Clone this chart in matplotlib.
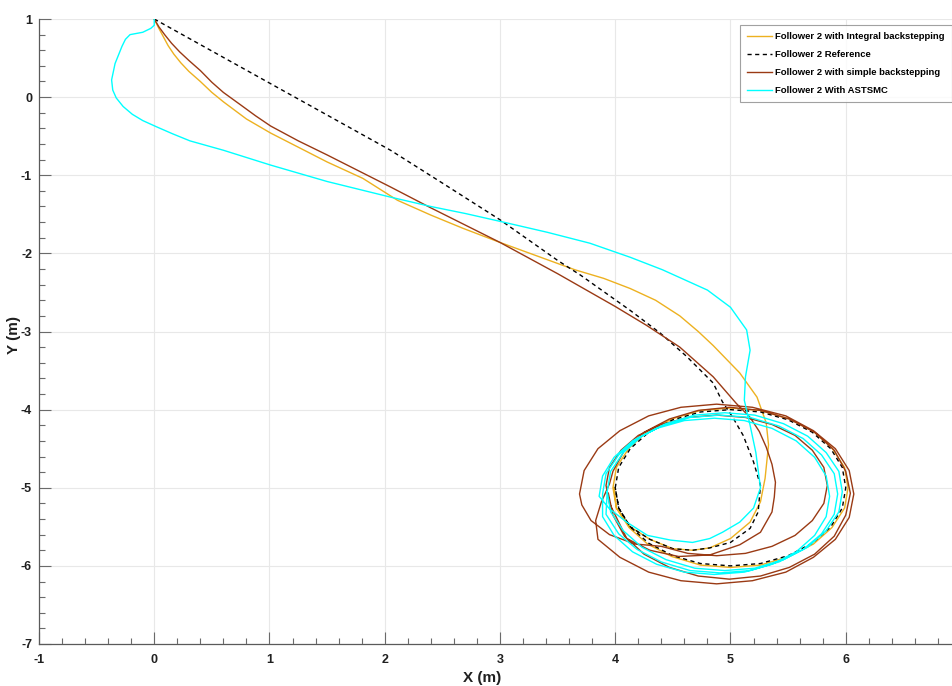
"""Follower 2 trajectories: integral / simple backstepping, ASTSMC and reference."""

import matplotlib

matplotlib.use("Agg")
from matplotlib import pyplot as plt
from matplotlib.ticker import FixedLocator, MultipleLocator

# ---- data (x, y in metres) ----
ref_x = [0.0, 1.0, 2.05, 2.5, 3.0, 3.5, 3.7, 4.13, 4.39, 4.62, 4.85, 4.93, 5.02, 5.11,
         5.2, 5.26, 5.24, 5.17, 5.0, 4.82, 4.67, 4.5, 4.3,
         4.13, 4.03, 4.0, 4.03, 4.13, 4.29, 4.5, 4.74, 5.0, 5.26, 5.5, 5.71, 5.87,
         5.97, 6.0, 5.97, 5.87, 5.71, 5.5, 5.26, 5.0, 4.74, 4.5, 4.29, 4.13, 4.03, 4.0]
ref_y = [1.0, 0.18, -0.68, -1.1, -1.57, -2.09, -2.28, -2.73, -3.02, -3.32, -3.66, -3.9, -4.1, -4.33,
         -4.67, -4.97, -5.31, -5.52, -5.7, -5.77, -5.8, -5.78, -5.66,
         -5.5, -5.26, -5.0, -4.74, -4.5, -4.29, -4.13, -4.03, -4.0, -4.03, -4.13, -4.29, -4.5,
         -4.74, -5.0, -5.26, -5.5, -5.71, -5.87, -5.97, -6.0, -5.97, -5.87, -5.71, -5.5, -5.26, -5.0]

ibs_x = [0.0, 0.04, 0.08, 0.12, 0.17, 0.23, 0.3, 0.4, 0.5, 0.6, 0.8, 1.01, 1.5, 1.81, 2.11, 2.4, 2.68,
         3.0, 3.26, 3.65, 3.9, 4.13, 4.35, 4.56, 4.72, 4.85, 5.08, 5.23, 5.31, 5.33, 5.3, 5.26,
         5.17, 5.0, 4.82, 4.67, 4.5, 4.3, 4.13,
         4.01, 3.98, 4.01, 4.12, 4.28, 4.49, 4.74, 5.0, 5.26, 5.51, 5.72, 5.88, 5.99, 6.02,
         5.99, 5.88, 5.72, 5.51, 5.26, 5.0, 4.74, 4.49, 4.28, 4.12, 4.01, 3.99]
ibs_y = [1.0, 0.88, 0.77, 0.66, 0.55, 0.44, 0.33, 0.2, 0.06, -0.06, -0.28, -0.46, -0.83, -1.04, -1.32, -1.51, -1.68,
         -1.86, -2.0, -2.21, -2.32, -2.45, -2.6, -2.8, -3.0, -3.18, -3.53, -3.84, -4.17, -4.45, -4.88, -5.18,
         -5.44, -5.65, -5.77, -5.8, -5.78, -5.66, -5.5,
         -5.26, -5.0, -4.74, -4.49, -4.28, -4.12, -4.01, -3.98, -4.01, -4.12, -4.28, -4.49, -4.74, -5.0,
         -5.26, -5.51, -5.72, -5.88, -5.99, -6.02, -5.99, -5.88, -5.72, -5.51, -5.26, -5.0]

sbs_x = [0.0, 0.04, 0.09, 0.15, 0.22, 0.3, 0.4, 0.5, 0.6, 0.75, 0.88, 1.01, 1.25, 1.5, 2.05, 2.39,
         3.0, 3.5, 4.0, 4.27, 4.56, 4.85, 5.05, 5.17, 5.25, 5.31, 5.36, 5.39, 5.38, 5.36, 5.26,
         5.08, 4.82, 4.55, 4.3, 4.1, 3.95,
         3.92, 3.95, 4.05, 4.2, 4.4, 4.63, 4.88, 5.13, 5.36, 5.56, 5.71, 5.81, 5.84,
         5.81, 5.71, 5.56, 5.36, 5.13, 4.88, 4.63, 4.4, 4.17, 3.95, 3.79, 3.71,
         3.69, 3.73, 3.85, 4.04, 4.29, 4.57, 4.88, 5.19, 5.48, 5.72, 5.91, 6.03, 6.07,
         6.03, 5.91, 5.72, 5.48, 5.19, 4.88, 4.57, 4.29, 4.04, 3.85, 3.83, 3.88, 3.95,
         3.98, 4.08, 4.25, 4.47, 4.72, 4.99, 5.26, 5.51, 5.73, 5.9, 6.0, 6.04,
         6.0, 5.9, 5.73, 5.51, 5.26, 4.99, 4.72, 4.47, 4.25, 4.08, 3.98, 3.94]
sbs_y = [1.0, 0.9, 0.8, 0.69, 0.58, 0.47, 0.34, 0.19, 0.06, -0.1, -0.24, -0.37, -0.56, -0.74, -1.15, -1.41,
         -1.86, -2.26, -2.68, -2.92, -3.2, -3.58, -3.92, -4.1, -4.28, -4.48, -4.7, -4.93, -5.12, -5.31, -5.57,
         -5.73, -5.86, -5.88, -5.8, -5.65, -5.2,
         -4.97, -4.74, -4.52, -4.33, -4.19, -4.1, -4.07, -4.1, -4.19, -4.33, -4.52, -4.74, -4.97,
         -5.2, -5.42, -5.61, -5.75, -5.84, -5.87, -5.84, -5.75, -5.72, -5.6, -5.42, -5.22,
         -5.08, -4.78, -4.5, -4.27, -4.08, -3.97, -3.93, -3.97, -4.08, -4.27, -4.5, -4.78, -5.08,
         -5.38, -5.66, -5.89, -6.08, -6.19, -6.23, -6.19, -6.08, -5.89, -5.66, -5.42, -5.18, -4.95,
         -4.79, -4.52, -4.29, -4.12, -4.01, -3.97, -4.01, -4.12, -4.29, -4.52, -4.79, -5.07,
         -5.35, -5.62, -5.85, -6.02, -6.13, -6.17, -6.13, -6.02, -5.85, -5.62, -5.35, -5.07]

smc_x = [0.0, 0.0, -0.03, -0.1, -0.21, -0.25, -0.28, -0.31, -0.34, -0.37, -0.36, -0.33, -0.27,
         -0.19, -0.1, 0.02, 0.16, 0.31, 0.6, 1.01,
         1.5, 2.05, 2.4, 2.7, 3.0, 3.41, 3.78, 4.13, 4.41, 4.8, 5.0, 5.14, 5.17, 5.13, 5.12, 5.17,
         5.22, 5.26, 5.2, 5.08, 4.93, 4.82, 4.67, 4.48, 4.28, 4.1, 3.95,
         3.86, 3.89, 3.99, 4.15, 4.36, 4.6, 4.86, 5.12, 5.36, 5.57, 5.73, 5.83, 5.86,
         5.83, 5.73, 5.57, 5.36, 5.12, 4.86, 4.6, 4.36, 4.15, 3.99, 3.89,
         3.89, 3.92, 4.03, 4.19, 4.4, 4.65, 4.91, 5.17, 5.42, 5.63, 5.79, 5.9, 5.93,
         5.9, 5.79, 5.63, 5.42, 5.17, 4.91, 4.65, 4.4, 4.19, 4.03, 3.92,
         3.93, 3.96, 4.07, 4.23, 4.44, 4.69, 4.95, 5.21, 5.46, 5.67, 5.83, 5.94, 5.97,
         5.94, 5.83, 5.67, 5.46, 5.21, 4.95, 4.69, 4.44, 4.23, 4.07, 3.96, 3.93]
smc_y = [1.0, 0.92, 0.88, 0.83, 0.8, 0.74, 0.65, 0.54, 0.43, 0.22, 0.09, -0.01, -0.12,
         -0.22, -0.3, -0.38, -0.47, -0.56, -0.68, -0.87,
         -1.08, -1.28, -1.4, -1.49, -1.59, -1.73, -1.87, -2.05, -2.21, -2.47, -2.69, -2.98, -3.24, -3.58, -3.88, -4.2,
         -4.55, -5.0, -5.26, -5.44, -5.57, -5.65, -5.7, -5.67, -5.61, -5.44, -5.27,
         -5.11, -4.85, -4.61, -4.4, -4.24, -4.14, -4.11, -4.14, -4.24, -4.4, -4.61, -4.85, -5.11,
         -5.37, -5.61, -5.82, -5.98, -6.08, -6.11, -6.08, -5.98, -5.82, -5.61, -5.37,
         -5.08, -4.82, -4.58, -4.37, -4.21, -4.1, -4.07, -4.1, -4.21, -4.37, -4.58, -4.82, -5.08,
         -5.34, -5.59, -5.79, -5.95, -6.06, -6.09, -6.06, -5.95, -5.79, -5.59, -5.34,
         -5.05, -4.79, -4.55, -4.34, -4.18, -4.07, -4.04, -4.07, -4.18, -4.34, -4.55, -4.79, -5.05,
         -5.31, -5.55, -5.76, -5.92, -6.03, -6.06, -6.03, -5.92, -5.76, -5.55, -5.31, -5.05]

labels = ["Follower 2 with Integral backstepping", "Follower 2 Reference",
          "Follower 2 with simple backstepping", "Follower 2 With ASTSMC"]
x_ticks = [-1, 0, 1, 2, 3, 4, 5, 6]

FONT = ["Liberation Sans", "DejaVu Sans"]


def main():
    plt.rcParams["font.family"] = FONT
    plt.rcParams["font.weight"] = "bold"
    plt.rcParams["axes.unicode_minus"] = False

    fig = plt.figure(figsize=(9.53, 6.86), dpi=100)
    # axes run a little past the right edge, as in the cropped original
    ax = fig.add_axes([39 / 953, 42 / 686, 922 / 953, 625 / 686])

    ax.plot(ibs_x, ibs_y, color="#EDB120", lw=1.0, label=labels[0])
    ax.plot(ref_x, ref_y, color="black", lw=1.0, ls=(0, (3, 2.5)), label=labels[1])
    ax.plot(sbs_x, sbs_y, color="#9A3A14", lw=1.0, label=labels[2])
    ax.plot(smc_x, smc_y, color="#00FFFF", lw=1.0, label=labels[3])

    ax.set_xlim(-1, 7)
    ax.set_ylim(-7, 1)
    ax.xaxis.set_major_locator(FixedLocator(x_ticks))
    ax.xaxis.set_minor_locator(MultipleLocator(0.2))
    ax.yaxis.set_major_locator(MultipleLocator(1))
    ax.yaxis.set_minor_locator(MultipleLocator(0.2))
    ax.grid(True, which="major", color="#E8E8E8", lw=0.8)
    ax.set_axisbelow(True)

    for side in ("top", "right"):
        ax.spines[side].set_visible(False)
    for side in ("left", "bottom"):
        ax.spines[side].set_color("#5A5A5A")
        ax.spines[side].set_linewidth(0.9)

    ax.tick_params(which="major", direction="in", length=8.5, width=0.8,
                   color="#6A6A6A", labelsize=9, labelcolor="#202020", pad=7)
    ax.tick_params(which="minor", direction="in", length=4.3, width=0.8, color="#6A6A6A")
    ax.tick_params(axis="y", which="major", pad=5)

    ax.set_xlabel("X (m)", fontsize=11, fontweight="bold", color="#202020")
    ax.set_ylabel("Y (m)", fontsize=11, fontweight="bold", color="#202020")
    ax.xaxis.set_label_coords((482 - 39) / 922, -0.043)
    ax.yaxis.set_label_coords(-0.019, (644 - 335) / 625)

    leg = ax.legend(loc="upper right", bbox_to_anchor=(952 / 953, 1 - 25 / 686),
                    bbox_transform=fig.transFigure, fontsize=6.8, frameon=True,
                    fancybox=False, handlelength=2.7, handletextpad=0.35,
                    borderpad=0.75, labelspacing=0.95, borderaxespad=0)
    leg.get_frame().set_edgecolor("#8A8A8A")
    leg.get_frame().set_linewidth(0.8)

    fig.savefig("out.png", dpi=100)


if __name__ == "__main__":
    main()
